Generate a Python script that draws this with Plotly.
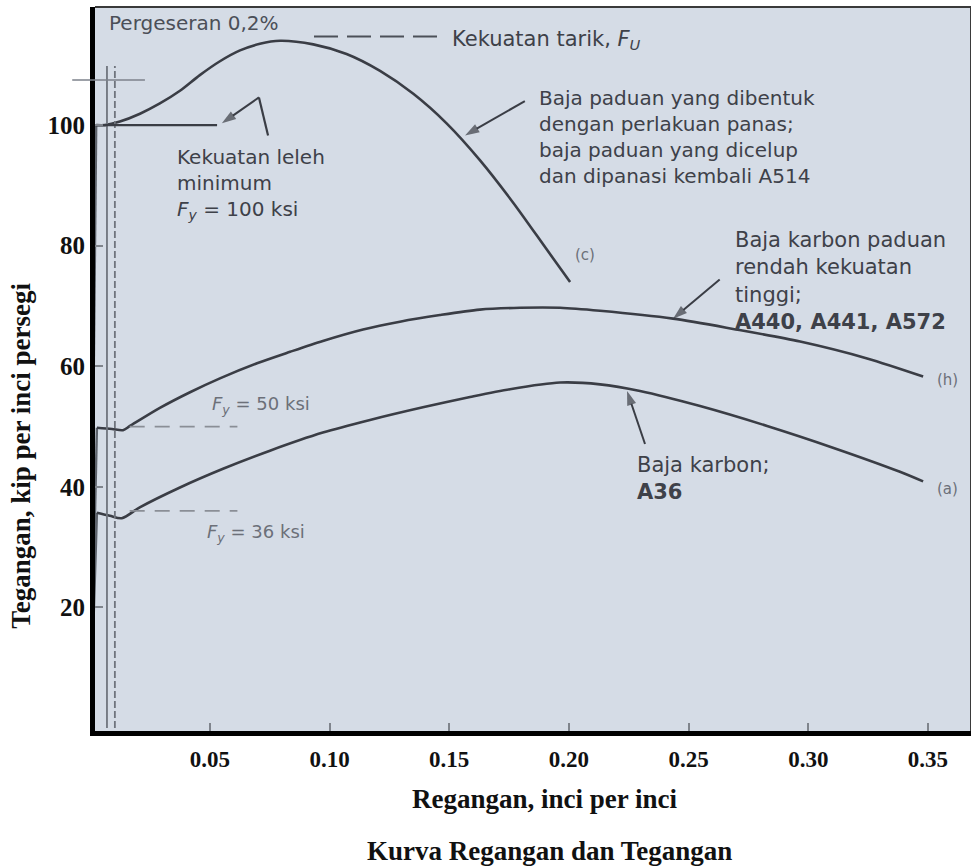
import plotly.graph_objects as go

# Stress–strain curves (strain in in/in, stress in ksi)
# (c) heat-treated / quenched & tempered alloy steel, A514
elastic_a514 = ([0.0, 0.0025], [0.0, 100.0])
strain_a514 = [0.0025, 0.0061, 0.0124, 0.0208, 0.0291, 0.0375, 0.0458, 0.0542, 0.0626, 0.0709,
               0.0793, 0.0932, 0.1071, 0.1211, 0.1350, 0.1489, 0.1628, 0.1768, 0.1907, 0.2005]
stress_a514 = [100.0, 100.0, 100.6, 101.9, 103.6, 105.7, 108.3, 110.6, 112.4, 113.5,
               114.0, 113.4, 111.8, 109.0, 105.2, 100.3, 94.2, 87.1, 79.4, 74.0]

# (b) high-strength low-alloy carbon steel, A440 / A441 / A572
elastic_a572 = ([0.0, 0.0028], [0.0, 49.8])
strain_a572 = [0.0028, 0.0091, 0.0137, 0.0166, 0.0291, 0.0417, 0.0542, 0.0697, 0.0835, 0.0972,
               0.1140, 0.1294, 0.1461, 0.1628, 0.1796, 0.1963, 0.2130, 0.2435, 0.2686, 0.2966,
               0.3246, 0.3480]
stress_a572 = [49.8, 49.6, 49.4, 50.1, 53.1, 55.7, 58.0, 60.5, 62.4, 64.2,
               66.1, 67.4, 68.5, 69.4, 69.7, 69.7, 69.2, 67.9, 66.2, 64.1,
               61.3, 58.3]

# (a) carbon steel, A36
elastic_a36 = ([0.0, 0.0028], [0.0, 35.7])
strain_a36 = [0.0028, 0.0082, 0.0132, 0.0207, 0.0375, 0.0555, 0.0751, 0.0972, 0.1169, 0.1390,
              0.1587, 0.1754, 0.1963, 0.2130, 0.2297, 0.2548, 0.2828, 0.3103, 0.3383, 0.3480]
stress_a36 = [35.7, 35.2, 34.8, 36.6, 39.9, 43.0, 46.0, 49.0, 51.1, 53.2,
              54.9, 56.2, 57.3, 57.0, 55.9, 53.4, 50.1, 46.5, 42.5, 40.9]

# Reference levels
yield_a514 = 100.0
plateau_a514 = [0.002, 0.053]
tensile_a514 = 114.7
tensile_dash = [0.0935, 0.1450]
yield_a572 = 50.0
yield_a36 = 36.0
yield_dash = [0.0165, 0.0615]
offset_strain = [0.0070, 0.0103]
offset_top = 109.8
offset_marker = 107.5

# Label pointers: (tail strain, tail stress, head strain, head stress)
pointer_a514 = (0.1816, 104.0, 0.1566, 98.3)
pointer_a572 = (0.2630, 74.4, 0.2435, 67.9)
pointer_a36 = (0.2318, 47.1, 0.2243, 55.9)
pointer_yield = (0.0705, 104.6, 0.0550, 100.3)
leader_yield = ([0.0743, 0.0705], [98.3, 104.6])

x_ticks = [0.05, 0.10, 0.15, 0.20, 0.25, 0.30, 0.35]
x_ticklabels = ["0.05", "0.10", "0.15", "0.20", "0.25", "0.30", "0.35"]
y_ticks = [20, 40, 60, 80, 100]

X_RANGE = [0.002, 0.368]
Y_RANGE = [-0.5, 119.6]

CURVE = "#3a3d45"
INK = "#3e4149"
LIGHT_INK = "#6c7079"
BG = "#d5dce6"
SANS = "DejaVu Sans, Arial, sans-serif"
SERIF = "Liberation Serif, Times New Roman, serif"

fig = go.Figure()


def line_trace(xs, ys, **line):
    fig.add_trace(go.Scatter(x=xs, y=ys, mode="lines", line=line,
                             showlegend=False, hoverinfo="skip"))


def pointer(p):
    x0, y0, x1, y1 = p
    fig.add_trace(go.Scatter(x=[x0, x1], y=[y0, y1], mode="lines+markers",
                             line=dict(color=CURVE, width=2),
                             marker=dict(symbol="arrow", size=[0, 15], angleref="previous",
                                         color=CURVE, line=dict(width=0)),
                             showlegend=False, hoverinfo="skip"))


# elastic branches (nearly on the stress axis)
for xs, ys in (elastic_a514, elastic_a572, elastic_a36):
    line_trace(xs, ys, color="#5d626b", width=2.4)

# the three stress–strain curves
for xs, ys in ((strain_a514, stress_a514), (strain_a572, stress_a572), (strain_a36, stress_a36)):
    line_trace(xs, ys, color=CURVE, width=2.6, shape="spline", smoothing=0.8)

# 0.2 % offset lines near the origin
line_trace([offset_strain[0]] * 2, [0, offset_top], color="#6f747d", width=1.8)
line_trace([offset_strain[1]] * 2, [0, offset_top], color="#6f747d", width=1.8, dash="7px,3px")

# yield plateau of the A514 steel
line_trace(plateau_a514, [yield_a514] * 2, color=CURVE, width=2.2)

# dashed reference lines for tensile and yield strengths
line_trace(tensile_dash, [tensile_a514] * 2, color="#4c5058", width=2, dash="24px,9px")
line_trace(yield_dash, [yield_a572] * 2, color="#8a8e96", width=1.8, dash="15px,10px")
line_trace(yield_dash, [yield_a36] * 2, color="#8a8e96", width=1.8, dash="15px,10px")

# label pointers
line_trace(*leader_yield, color=CURVE, width=2.2)
for p in (pointer_a514, pointer_a572, pointer_a36, pointer_yield):
    pointer(p)

annotations = []


def label(text, x, y, size=20, color=INK, yanchor="top"):
    annotations.append(dict(text=text, x=x, y=y, xref="x", yref="y", showarrow=False,
                            xanchor="left", yanchor=yanchor, align="left",
                            font=dict(family=SANS, size=size, color=color)))


label("Pergeseran 0,2%", 0.0072, 117.0, size=20, color="#4b4f58", yanchor="middle")
label("Kekuatan tarik, <i>F<sub>U</sub></i>", 0.1503, 114.2, size=21, yanchor="middle")
label("Baja paduan yang dibentuk<br>dengan perlakuan panas;<br>baja paduan yang dicelup<br>"
      "dan dipanasi kembali A514", 0.1866, 106.8, size=20)
label("(c)", 0.2017, 78.5, size=15, color=LIGHT_INK, yanchor="middle")
label("Kekuatan leleh<br>minimum<br><i>F<sub>y</sub></i> = 100 ksi", 0.0354, 97.1, size=20)
label("Baja karbon paduan<br>rendah kekuatan<br>tinggi;<br><b>A440, A441, A572</b>",
      0.2686, 83.3, size=21)
label("(h)", 0.3528, 57.8, size=15, color=LIGHT_INK, yanchor="middle")
label("Baja karbon;<br><b>A36</b>", 0.2277, 45.9, size=21)
label("(a)", 0.3528, 39.7, size=15, color=LIGHT_INK, yanchor="middle")
label("<i>F<sub>y</sub></i> = 50 ksi", 0.0500, 53.6, size=18, color=LIGHT_INK, yanchor="middle")
label("<i>F<sub>y</sub></i> = 36 ksi", 0.0480, 32.4, size=18, color=LIGHT_INK, yanchor="middle")

title_font = dict(family=SERIF, size=27, color="#111111", weight="bold")
annotations += [
    dict(text="Regangan, inci per inci", x=0.5137, y=-0.094, xref="paper", yref="paper",
         showarrow=False, xanchor="center", yanchor="middle", font=title_font),
    dict(text="Tegangan, kip per inci persegi", x=-0.0845, y=0.380, xref="paper", yref="paper",
         textangle=-90, showarrow=False, xanchor="center", yanchor="middle", font=title_font),
    dict(text="Kurva Regangan dan Tegangan", x=0.5194, y=-0.1657, xref="paper", yref="paper",
         showarrow=False, xanchor="center", yanchor="middle", font=title_font),
]

fig.update_layout(
    width=971, height=867,
    margin=dict(l=95, r=0, t=7, b=136),
    paper_bgcolor="white",
    plot_bgcolor=BG,
    annotations=annotations,
    shapes=[
        # thin frame on the top and right
        dict(type="line", xref="paper", yref="paper", x0=0, x1=1, y0=1, y1=1,
             line=dict(color="#3a3a3a", width=2)),
        dict(type="line", xref="paper", yref="paper", x0=1, x1=1, y0=0, y1=1,
             line=dict(color="#3a3a3a", width=2)),
        # 0.2 % offset marker crossing the stress axis
        dict(type="line", xref="paper", yref="y", x0=-0.026, x1=0.057,
             y0=offset_marker, y1=offset_marker, line=dict(color="#7d828b", width=1.6)),
    ],
    xaxis=dict(
        range=X_RANGE, tickvals=x_ticks, ticktext=x_ticklabels,
        ticks="inside", ticklen=8, tickwidth=2, tickcolor="#7f848c",
        showgrid=False, zeroline=False,
        showline=True, linecolor="black", linewidth=5,
        tickfont=dict(family=SERIF, size=23, color="#111111", weight="bold"),
        ticklabelstandoff=3,
    ),
    yaxis=dict(
        range=Y_RANGE, tickvals=y_ticks, ticktext=[str(v) for v in y_ticks],
        ticks="inside", ticklen=8, tickwidth=2, tickcolor="#7f848c",
        showgrid=False, zeroline=False,
        showline=True, linecolor="black", linewidth=5,
        tickfont=dict(family=SERIF, size=25, color="#111111", weight="bold"),
        ticklabelstandoff=0,
    ),
)

fig.write_html("out.html")
